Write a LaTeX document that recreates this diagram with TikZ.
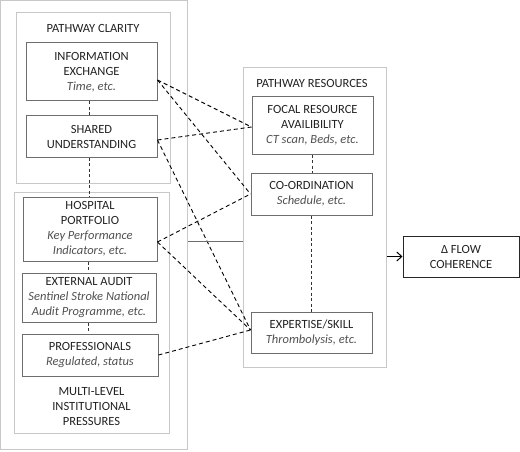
\documentclass[tikz,border=0pt]{standalone}
\usepackage{fontspec}
\setmainfont{Carlito}
\usetikzlibrary{calc,arrows.meta}
\definecolor{lightframe}{HTML}{C8C8C8}
\definecolor{darkframe}{HTML}{6E6E6E}
\definecolor{txt}{HTML}{222222}
\definecolor{itxt}{HTML}{505050}
\tikzset{
  grpbox/.style={draw=lightframe, line width=1pt, inner sep=0pt},
  ibox/.style={draw=darkframe, line width=1pt, inner sep=0pt, align=center, text=txt,
    font=\fontsize{12.5}{15}\selectfont},
  lbl/.style={inner sep=0pt, align=center, text=txt, font=\fontsize{12.5}{15}\selectfont},
  dlink/.style={draw=black, line width=0.9pt, dash pattern=on 4pt off 3pt},
  vlink/.style={draw=black!80, line width=0.9pt, dash pattern=on 3pt off 2.5pt},
}
\newcommand{\ital}[1]{{\color{itxt}\itshape #1}}
\begin{document}
\begin{tikzpicture}[x=1pt,y=-1pt]
\useasboundingbox (0,0) rectangle (520,452);
% group boxes
\node[grpbox, minimum width=187pt, minimum height=449pt] (outer) at (94,225) {};
\node[grpbox, minimum width=154pt, minimum height=170pt] (pc) at (93,98) {};
\node[grpbox, minimum width=155pt, minimum height=241pt] (ml) at (91.5,312.5) {};
\node[grpbox, minimum width=143pt, minimum height=299pt] (pres) at (314.5,217.5) {};
% titles
\node[lbl] (pctitle) at (93,28) {PATHWAY CLARITY};
\node[lbl] (mltitle) at (91.5,407) {MULTI-LEVEL\\INSTITUTIONAL\\PRESSURES};
\node[lbl] (prestitle) at (312,83) {PATHWAY RESOURCES};
% inner boxes
\node[ibox, minimum width=131pt, minimum height=58pt] (ie) at (91.5,72) {INFORMATION\\EXCHANGE\\\ital{Time, etc.}};
\node[ibox, minimum width=131pt, minimum height=41pt] (su) at (91.5,136.5) {SHARED\\UNDERSTANDING};
\node[ibox, minimum width=134pt, minimum height=64pt] (hp) at (90,229) {HOSPITAL\\PORTFOLIO\\\ital{Key Performance}\\\ital{Indicators, etc.}};
\node[ibox, minimum width=134pt, minimum height=49pt] (ea) at (89,297.5) {EXTERNAL AUDIT\\\ital{Sentinel Stroke National}\\\ital{Audit Programme, etc.}};
\node[ibox, minimum width=136pt, minimum height=42pt] (pr) at (90,355) {PROFESSIONALS\\\ital{Regulated, status}};
\node[ibox, minimum width=121pt, minimum height=57pt] (fr) at (312.5,125.5) {FOCAL RESOURCE\\AVAILIBILITY\\\ital{CT scan, Beds, etc.}};
\node[ibox, minimum width=121pt, minimum height=42pt] (co) at (311.5,194) {CO-ORDINATION\\\ital{Schedule, etc.}};
\node[ibox, minimum width=121pt, minimum height=41pt] (ex) at (311.5,332.5) {EXPERTISE/SKILL\\\ital{Thrombolysis, etc.}};
\node[ibox, draw=black!85, minimum width=116pt, minimum height=41pt] (fc) at (461,256.5) {Δ FLOW\\COHERENCE};
% vertical dashed links
\draw[vlink] ([xshift=-2.5pt]ie.south) -- ([xshift=-2.5pt]su.south |- su.north);
\draw[vlink] ([xshift=-2.5pt]su.south) -- ([xshift=-2.5pt]su.south |- hp.north);
\draw[vlink] ([xshift=-2pt]hp.south) -- ([xshift=-2pt]hp.south |- ea.north);
\draw[vlink] ([xshift=-1pt]ea.south) -- ([xshift=-1pt]ea.south |- pr.north);
\draw[vlink] (fr.south) -- (fr.south |- co.north);
\draw[vlink] (co.south) -- (co.south |- ex.north);
% diagonal dashed links
\draw[dlink] ([yshift=-8pt]ie.east) -- ([yshift=-1.5pt]fr.west);
\draw[dlink] ([yshift=-8pt]ie.east) -- (co.west);
\draw[dlink] ([yshift=-3.5pt]su.east) -- ([yshift=-1.5pt]fr.west);
\draw[dlink] ([yshift=-3.5pt]su.east) -- ([yshift=2.5pt]ex.west);
\draw[dlink] ([yshift=-13pt]hp.east) -- (co.west);
\draw[dlink] ([yshift=-13pt]hp.east) -- ([yshift=2.5pt]ex.west);
\draw[dlink] (pr.east) -- ([yshift=2.5pt]ex.west);
% solid links
\draw[draw=darkframe, line width=1pt] ([yshift=-16pt]outer.east) coordinate (sl) -- (sl -| pres.west);
\draw[line width=1pt, -{Straight Barb[length=5pt,width=9pt]}] (pres.east |- fc.west) -- (fc.west);
\end{tikzpicture}
\end{document}
